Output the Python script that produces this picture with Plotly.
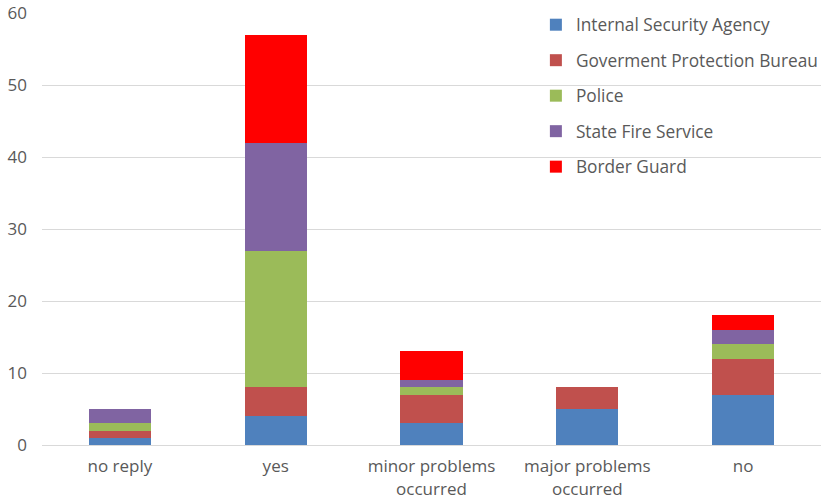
import plotly.graph_objects as go

categories = ["no reply", "yes", "minor problems<br>occurred", "major problems<br>occurred", "no"]
internal_security = [1, 4, 3, 5, 7]
gov_protection = [1, 4, 4, 3, 5]
police = [1, 19, 1, 0, 2]
fire_service = [2, 15, 1, 0, 2]
border_guard = [0, 15, 4, 0, 2]

series = [
    ("Internal Security Agency", internal_security, "#4f81bd"),
    ("Goverment Protection Bureau", gov_protection, "#c0504d"),
    ("Police", police, "#9bbb59"),
    ("State Fire Service", fire_service, "#8064a2"),
    ("Border Guard", border_guard, "#ff0000"),
]

fig = go.Figure()
for name, vals, color in series:
    fig.add_trace(go.Bar(
        x=categories, y=vals, name=name, legendgroup=name,
        marker=dict(color=color, line=dict(width=0)),
    ))

font_family = "Open Sans, DejaVu Sans, sans-serif"
fig.update_layout(
    barmode="stack",
    bargap=0.6,
    width=824, height=498,
    margin=dict(l=42, r=3, t=13, b=53, autoexpand=False),
    plot_bgcolor="white", paper_bgcolor="white",
    font=dict(family=font_family, size=17, color="#595959"),
    legend=dict(
        x=0.634, y=1.014, xanchor="left", yanchor="top",
        bgcolor="rgba(0,0,0,0)",
        traceorder="grouped", tracegroupgap=10,
        font=dict(size=17.3, color="#595959"),
        itemwidth=30,
    ),
    yaxis=dict(
        range=[0, 60], dtick=10, showgrid=True, gridcolor="#d9d9d9",
        gridwidth=1, zeroline=False, ticks="", showline=False,
        tickfont=dict(size=17, color="#595959"),
        ticklabelstandoff=14,
    ),
    xaxis=dict(
        showline=True, linecolor="#d9d9d9", linewidth=1, ticks="",
        tickfont=dict(size=17, color="#595959"),
        ticklabelstandoff=6,
    ),
)

fig.write_html("out.html")
